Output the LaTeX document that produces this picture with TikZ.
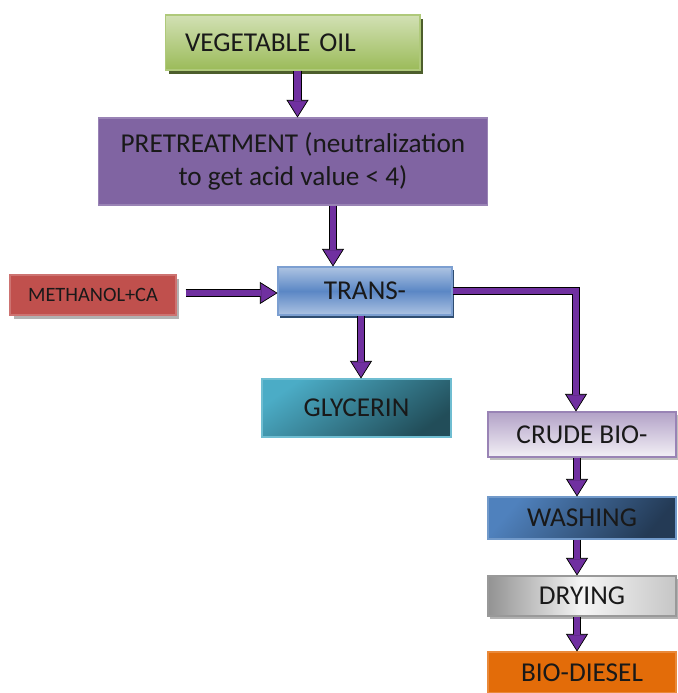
\documentclass[tikz,border=0pt]{standalone}
\usepackage{fontspec}
\setmainfont{Carlito}
\usetikzlibrary{arrows.meta,shadows,calc}
\definecolor{arrowpurple}{HTML}{7030A0}
\definecolor{oilgreen}{HTML}{9BBB59}
\definecolor{pretpurple}{HTML}{8064A2}
\definecolor{methred}{HTML}{C0504D}
\definecolor{transblue}{HTML}{5B87C5}
\definecolor{glyteal}{HTML}{4BACC6}
\definecolor{washblue}{HTML}{4F81BD}
\definecolor{dieselorange}{HTML}{E36C09}

\tikzset{
  stage/.style={rectangle, draw=#1!80!white, line width=0.6pt, inner sep=2pt, text=black!90},
  fatarrow/.style={draw=arrowpurple, line width=3.9pt, shorten >=0.9pt,
    -{Triangle[width=10.5pt,length=8.5pt,line width=0.4pt]},
    preaction={draw=black, line width=5.1pt, shorten >=0pt,
      -{Triangle[width=12.5pt,length=10pt,line width=0.4pt]}}}
}

\begin{document}
\begin{tikzpicture}[x=0.02cm, y=-0.02cm, font=\fontsize{15.5}{19}\selectfont]
\useasboundingbox (0,0) rectangle (677,693);

% feed and pretreatment
\node[stage=oilgreen, top color=oilgreen!45!white, bottom color=oilgreen,
  drop shadow={shadow xshift=2pt, shadow yshift=-2pt, fill=oilgreen!50!black, opacity=1},
  minimum width=5.1cm, minimum height=1.1cm, text width=4.3cm, align=left]
  (oil) at (292.5,42.5) {VEGETABLE OIL};
\node[stage=pretpurple, fill=pretpurple, minimum width=7.8cm, minimum height=1.74cm, align=center]
  (pret) at (293,161.5) {PRETREATMENT (neutralization\\to get acid value < 4)};

% reaction
\node[stage=methred, fill=methred, drop shadow={shadow xshift=2pt, shadow yshift=-2pt, fill=gray!60, opacity=1},
  minimum width=3.32cm, minimum height=0.8cm, font=\fontsize{11.6}{14}\selectfont]
  (meth) at (93,295) {METHANOL+CA};
\node[stage=transblue, top color=transblue!50!white, bottom color=transblue!50!white, middle color=transblue,
  drop shadow={shadow xshift=1pt, shadow yshift=-1.5pt, fill=washblue!60!black, opacity=1},
  minimum width=3.48cm, minimum height=0.96cm]
  (trans) at (365,291) {TRANS-};
\node[stage=glyteal, top color=glyteal, bottom color=glyteal!45!black, shading angle=35,
  minimum width=3.78cm, minimum height=1.16cm]
  (gly) at (356.5,408) {GLYCERIN};

% purification line
\node[stage=pretpurple, top color=pretpurple!60!white, bottom color=pretpurple!10!white,
  drop shadow={shadow xshift=1pt, shadow yshift=-1.5pt, fill=gray!50, opacity=1},
  minimum width=3.76cm, minimum height=0.9cm]
  (crude) at (582,434.5) {CRUDE BIO-};
\node[stage=washblue, top color=washblue, bottom color=washblue!45!black, shading angle=50,
  minimum width=3.76cm, minimum height=0.84cm]
  (wash) at (582,518) {WASHING};
\node[stage=gray, left color=gray!85, right color=gray!45, middle color=gray!8,
  drop shadow={shadow xshift=1pt, shadow yshift=-1.5pt, fill=gray!60, opacity=1},
  minimum width=3.76cm, minimum height=0.8cm]
  (dry) at (582,596) {DRYING};
\node[stage=dieselorange, fill=dieselorange, minimum width=3.76cm, minimum height=0.82cm]
  (diesel) at (582,672.5) {BIO-DIESEL};

% arrows
\draw[fatarrow] ($(oil.south)+(5,0)$) coordinate (a1) -- (a1 |- pret.north);
\draw[fatarrow] ($(pret.south)+(40,0)$) coordinate (a2) -- (a2 |- trans.north);
\draw[fatarrow] ($(meth.east)+(9,-2)$) coordinate (a0) -- (a0 -| trans.west);
\draw[fatarrow] ($(trans.south)+(-4,0)$) coordinate (a3) -- (a3 |- gly.north);
\draw[fatarrow] (trans.east) -| ($(crude.north)+(-6,0)$);
\draw[fatarrow] ($(crude.south)+(-5,0)$) coordinate (a4) -- (a4 |- wash.north);
\draw[fatarrow] ($(wash.south)+(-5,0)$) coordinate (a5) -- (a5 |- dry.north);
\draw[fatarrow] ($(dry.south)+(-5,0)$) coordinate (a6) -- (a6 |- diesel.north);
\end{tikzpicture}
\end{document}
